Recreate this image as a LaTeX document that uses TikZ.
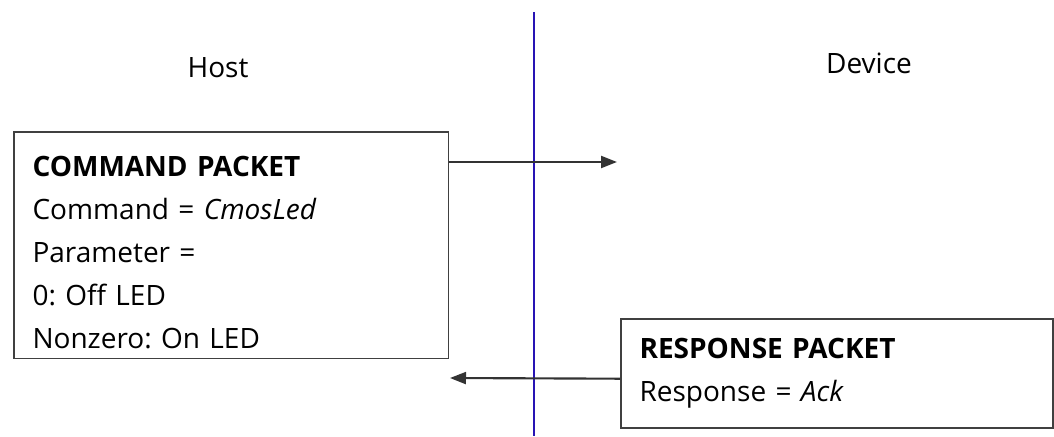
\documentclass[tikz,border=0pt]{standalone}
\usepackage{fontspec}
\setmainfont{Open Sans}
\usetikzlibrary{positioning,arrows.meta}
\definecolor{wireblue}{RGB}{40,20,180}
\frenchspacing

\begin{document}
\begin{tikzpicture}[x=0.75pt,y=-0.75pt,
    every node/.style={font=\fontsize{21}{32.25}\selectfont},
    packet/.style={draw=black!75,line width=1.3pt,align=left,anchor=north west,inner xsep=13.5pt},
    msg/.style={-{Triangle[length=12pt,width=9pt]},line width=1.6pt,black!80}]
    \useasboundingbox (0,0) rectangle (1054,436);
    % side labels
    \node (host) at (218,68) {Host};
    \node (device) at (869,63) {Device};
    % the line between host and device
    \coordinate (wtop) at (534,12);
    \coordinate (wbot) at (534,436);
    \draw[wireblue,line width=2pt] (wtop) -- (wbot);
    % packets
    \node[packet,minimum width=326pt,minimum height=170pt,text width=298pt] (cmd) at (13,131)
        {\rule{0pt}{25.5pt}\textbf{COMMAND PACKET}\\
         Command = \textit{CmosLed}\\
         Parameter =\\
         0: Off LED\\
         Nonzero: On LED};
    \node[packet,minimum width=324pt,minimum height=81.75pt,text width=296pt] (resp) at (620,318)
        {\textbf{RESPONSE PACKET}\\
         Response = \textit{Ack}};
    \coordinate (devin) at (617,162);
    \coordinate (hostin) at (450,378);
    \draw[msg] ([yshift=-23.25pt]cmd.north east) -- (devin);
    \draw[msg] ([yshift=-4pt]resp.west) -- (hostin);
\end{tikzpicture}
\end{document}
